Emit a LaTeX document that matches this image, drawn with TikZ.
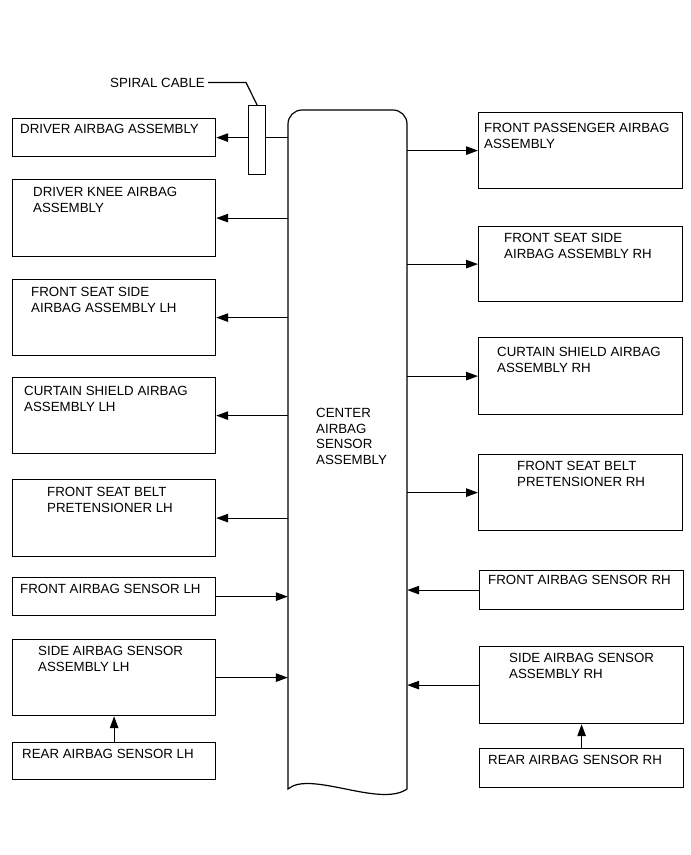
\documentclass[tikz,border=0pt]{standalone}
\usepackage{fontspec}
\setmainfont{Liberation Sans}
\usetikzlibrary{arrows.meta}
\begin{document}
\begin{tikzpicture}[x=1pt,y=-1pt,
  box/.style={draw,line width=1.2pt,inner sep=0pt,anchor=north west},
  lab/.style={inner sep=0pt,anchor=base west,align=left,font=\fontsize{13.3}{15.7}\selectfont},
  arr/.style={line width=1.2pt,-{Triangle[length=12pt,width=8.5pt]}},
  ln/.style={line width=1.2pt}]
\useasboundingbox (0,0) rectangle (691,855);
% centre block
\node[inner sep=0pt,minimum width=119pt,minimum height=679pt] (cab) at (347.5,449.5) {};
\draw[line width=1.2pt] (288,789) [rounded corners=14pt] -- (288,110) -- (407,110) -- (407,400) [sharp corners] -- (407,789)
  .. controls (380,808) and (310,770) .. (288,789) -- cycle;
\node[lab] (cabt) at (316,464.6) {CENTER\\AIRBAG\\SENSOR\\ASSEMBLY};
% spiral cable
\node[box,minimum width=17pt,minimum height=69pt] (sc) at (248,105) {};
\node[lab,anchor=base east] (scl) at (205,87) {SPIRAL CABLE};
\draw[ln] ([xshift=3pt]scl.east) -- ([xshift=41pt]scl.east) -- (sc.north);
% left boxes
\node[box,minimum width=203pt,minimum height=38pt] (l1) at (12,118) {};
\node[box,minimum width=203pt,minimum height=77pt] (l2) at (12,179) {};
\node[box,minimum width=203pt,minimum height=76pt] (l3) at (12,279) {};
\node[box,minimum width=203pt,minimum height=76pt] (l4) at (12,377) {};
\node[box,minimum width=203pt,minimum height=77pt] (l5) at (12,479) {};
\node[box,minimum width=203pt,minimum height=38pt] (l6) at (12,577) {};
\node[box,minimum width=203pt,minimum height=76pt] (l7) at (12,639) {};
\node[box,minimum width=203pt,minimum height=37pt] (l8) at (12,742) {};
\node[lab] (l1t) at (20,133) {DRIVER AIRBAG ASSEMBLY};
\node[lab] (l2t) at (33,212.2) {DRIVER KNEE AIRBAG\\ASSEMBLY};
\node[lab] (l3t) at (31,312.2) {FRONT SEAT SIDE\\AIRBAG ASSEMBLY LH};
\node[lab] (l4t) at (24,411.2) {CURTAIN SHIELD AIRBAG\\ASSEMBLY LH};
\node[lab] (l5t) at (47,512.2) {FRONT SEAT BELT\\PRETENSIONER LH};
\node[lab] (l6t) at (20,593.5) {FRONT AIRBAG SENSOR LH};
\node[lab] (l7t) at (38,671.2) {SIDE AIRBAG SENSOR\\ASSEMBLY LH};
\node[lab] (l8t) at (22,758.5) {REAR AIRBAG SENSOR LH};
% right boxes
\node[box,minimum width=204pt,minimum height=76pt] (r1) at (478,112) {};
\node[box,minimum width=204pt,minimum height=75pt] (r2) at (478,226) {};
\node[box,minimum width=204pt,minimum height=77pt] (r3) at (478,337) {};
\node[box,minimum width=204pt,minimum height=76pt] (r4) at (478,454) {};
\node[box,minimum width=204pt,minimum height=39pt] (r5) at (479,570) {};
\node[box,minimum width=204pt,minimum height=77pt] (r6) at (479,646) {};
\node[box,minimum width=204pt,minimum height=39pt] (r7) at (479,748) {};
\node[lab] (r1t) at (484,148.2) {FRONT PASSENGER AIRBAG\\ASSEMBLY};
\node[lab] (r2t) at (504,258.2) {FRONT SEAT SIDE\\AIRBAG ASSEMBLY RH};
\node[lab] (r3t) at (497,372.2) {CURTAIN SHIELD AIRBAG\\ASSEMBLY RH};
\node[lab] (r4t) at (517,486.2) {FRONT SEAT BELT\\PRETENSIONER RH};
\node[lab] (r5t) at (488,584.5) {FRONT AIRBAG SENSOR RH};
\node[lab] (r6t) at (509,678.2) {SIDE AIRBAG SENSOR\\ASSEMBLY RH};
\node[lab] (r7t) at (488,764.5) {REAR AIRBAG SENSOR RH};
% connectors left
\draw[ln] (l1.east -| cab.west) -- (l1.east -| sc.east);
\draw[arr] (l1.east -| sc.west) -- (l1.east);
\draw[arr] (l2.east -| cab.west) -- (l2.east);
\draw[arr] (l3.east -| cab.west) -- (l3.east);
\draw[arr] (l4.east -| cab.west) -- (l4.east);
\draw[arr] (l5.east -| cab.west) -- (l5.east);
\draw[arr] (l6.east) -- (l6.east -| cab.west);
\draw[arr] (l7.east) -- (l7.east -| cab.west);
\draw[arr] (l8.north) -- (l8.north |- l7.south);
% connectors right
\draw[arr] (r1.west -| cab.east) -- (r1.west);
\draw[arr] (r2.west -| cab.east) -- (r2.west);
\draw[arr] (r3.west -| cab.east) -- (r3.west);
\draw[arr] (r4.west -| cab.east) -- (r4.west);
\draw[arr] (r5.west) -- (r5.west -| cab.east);
\draw[arr] (r6.west) -- (r6.west -| cab.east);
\draw[arr] (r7.north) -- (r7.north |- r6.south);
\end{tikzpicture}
\end{document}
